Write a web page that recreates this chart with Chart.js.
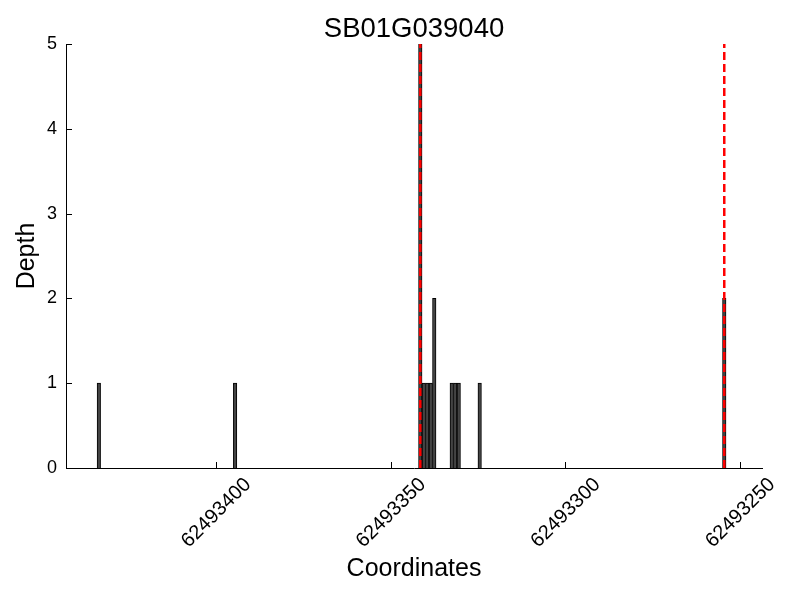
<!DOCTYPE html>
<html lang="en">
<head>
    <meta charset="UTF-8">
    <title>SB01G039040</title>
    <script src="https://cdn.jsdelivr.net/npm/chart.js"></script>
    <style>
        html, body { margin: 0; padding: 0; background: #fff; }
        #wrap { width: 800px; height: 600px; }
    </style>
</head>
<body>
    <div id="wrap"><canvas id="depthChart" width="800" height="600"></canvas></div>

    <script>
        // read coverage: bin start coordinate and depth
        const coordinates = [62493433, 62493394, 62493341, 62493340, 62493339, 62493338, 62493337,
                             62493332, 62493331, 62493330, 62493324, 62493254];
        const depths = [1, 1, 5, 1, 1, 1, 2, 1, 1, 1, 1, 2];

        // red dashed markers
        const markerPositions = [62493341.5, 62493254.5];

        const xTicks = [62493400, 62493350, 62493300, 62493250];
        const yTicks = [0, 1, 2, 3, 4, 5];

        const chartTitle = 'SB01G039040';
        const FONT = "'Liberation Sans', Arial, Helvetica, sans-serif";

        // inward tick marks + title centred over the plot area
        const decorations = {
            id: 'decorations',
            afterDraw(chart) {
                const ctx = chart.ctx;
                const area = chart.chartArea;
                const x = chart.scales.x, y = chart.scales.y;
                ctx.save();
                ctx.strokeStyle = '#000';
                ctx.lineWidth = 1;
                ctx.beginPath();
                xTicks.forEach(v => {
                    const px = Math.round(x.getPixelForValue(v)) + 0.5;
                    ctx.moveTo(px, area.bottom);
                    ctx.lineTo(px, area.bottom - 6);
                });
                yTicks.forEach(v => {
                    const py = Math.round(y.getPixelForValue(v)) + 0.5;
                    ctx.moveTo(area.left, py);
                    ctx.lineTo(area.left + 6, py);
                });
                ctx.stroke();

                ctx.fillStyle = '#000';
                ctx.font = '27.5px ' + FONT;
                ctx.textAlign = 'center';
                ctx.textBaseline = 'middle';
                ctx.fillText(chartTitle, (area.left + area.right) / 2, 29);
                ctx.restore();
            }
        };

        const datasets = [{
            type: 'bar',
            data: coordinates.map((c, i) => ({ x: c + 0.5, y: depths[i] })),
            backgroundColor: '#444444',
            borderColor: '#000000',
            borderWidth: 1,
            barPercentage: 1,
            categoryPercentage: 1,
            order: 2
        }];

        markerPositions.forEach(m => {
            datasets.push({
                type: 'line',
                data: [{ x: m, y: 0 }, { x: m, y: 5 }],
                borderColor: '#ff0000',
                borderWidth: 2.5,
                borderDash: [8, 4],
                pointRadius: 0,
                fill: false,
                order: 1
            });
        });

        new Chart(document.getElementById('depthChart'), {
            type: 'bar',
            data: { datasets: datasets },
            options: {
                responsive: false,
                animation: false,
                layout: { padding: { left: 12, right: 38, top: 44, bottom: 16 } },
                plugins: {
                    legend: { display: false },
                    tooltip: { enabled: false },
                    title: { display: false }
                },
                scales: {
                    x: {
                        type: 'linear',
                        reverse: true,
                        min: 62493243.7,
                        max: 62493442.9,
                        offset: false,
                        grid: { display: false, drawTicks: false, tickLength: 0 },
                        border: { display: true, color: '#000', width: 1 },
                        afterBuildTicks: axis => { axis.ticks = xTicks.map(v => ({ value: v })); },
                        afterFit: axis => { axis.paddingLeft = 0; axis.paddingRight = 0; axis.height = 116; },
                        ticks: {
                            color: '#000',
                            font: { family: FONT, size: 20 },
                            minRotation: 45,
                            maxRotation: 45,
                            labelOffset: 32,
                            padding: 5,
                            callback: v => String(v)
                        },
                        title: {
                            display: true,
                            text: 'Coordinates',
                            color: '#000',
                            font: { family: FONT, size: 25 },
                            padding: { top: 0, bottom: 0 }
                        }
                    },
                    y: {
                        min: 0,
                        max: 5,
                        grid: { display: false, drawTicks: false, tickLength: 0 },
                        border: { display: true, color: '#000', width: 1 },
                        afterBuildTicks: axis => { axis.ticks = yTicks.map(v => ({ value: v })); },
                        afterFit: axis => { axis.width = 54; },
                        ticks: {
                            color: '#000',
                            font: { family: FONT, size: 18 },
                            padding: 9
                        },
                        title: {
                            display: true,
                            text: 'Depth',
                            color: '#000',
                            font: { family: FONT, size: 25 },
                            padding: { top: 0, bottom: 0 }
                        }
                    }
                }
            },
            plugins: [decorations]
        });
    </script>
</body>
</html>
